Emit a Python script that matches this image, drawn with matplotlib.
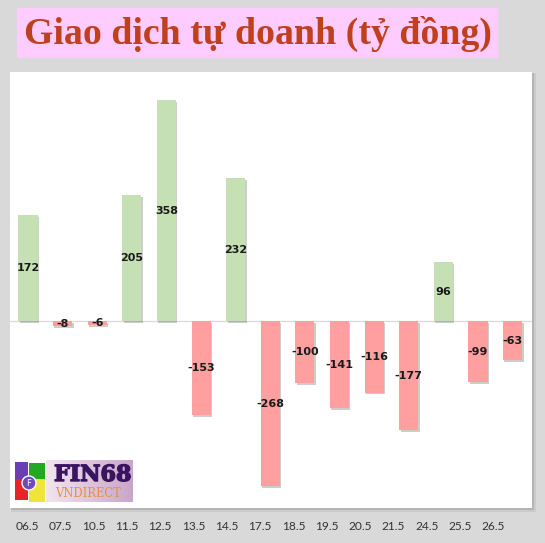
import matplotlib
matplotlib.use("Agg")
import matplotlib.pyplot as plt
import matplotlib.patheffects as pe
from matplotlib.patches import Rectangle, Circle
from matplotlib.colors import LinearSegmentedColormap
import numpy as np

dates = ["06.5", "07.5", "10.5", "11.5", "12.5", "13.5", "14.5", "17.5",
         "18.5", "19.5", "20.5", "21.5", "24.5", "25.5", "26.5"]
values = [172, -8, -6, 205, 358, -153, 232, -268,
          -100, -141, -116, -177, 96, -99, -63]

W, H = 545, 543
BG = "#d9d9d9"
GREEN = "#c5e0b3"
RED = "#ff9f9f"


def px(x0, y0, x1, y1):
    # pixel box (top-left origin) -> figure fraction [l, b, w, h]
    return [x0 / W, 1 - y1 / H, (x1 - x0) / W, (y1 - y0) / H]


def fig_rect(x0, y0, x1, y1, color, z=-2):
    r = px(x0, y0, x1, y1)
    fig.patches.append(Rectangle((r[0], r[1]), r[2], r[3],
                                 transform=fig.transFigure, facecolor=color,
                                 edgecolor="none", zorder=z))


fig = plt.figure(figsize=(W / 100, H / 100), dpi=100, facecolor=BG)

# title box
fig_rect(17, 8, 498, 58, "#ffccff")
fig.text((17 + 498) / 2 / W, 1 - 33.5 / H,
         "Giao dịch tự doanh (tỷ đồng)", ha="center", va="center",
         family="Liberation Serif", fontweight="bold", fontsize=27.3,
         color="#c0401e")

# soft panel shadow
fig_rect(11, 73, 536, 512, "#cbcbcb", z=-3)
fig_rect(11, 73, 534, 510, "#b4b4b4", z=-2)

ax = fig.add_axes(px(10, 72, 532, 508))
ax.set_facecolor("white")
ax.set_xlim(-0.52, 14.56)
ax.set_ylim(-303, 404)
for s in ax.spines.values():
    s.set_visible(False)
ax.set_xticks([])
ax.set_yticks([])
ax.axhline(0, color="#d9d9d9", lw=0.9, zorder=1)

x = np.arange(len(values))
colors = [GREEN if v >= 0 else RED for v in values]
bars = ax.bar(x, values, width=0.55, color=colors, zorder=2)
for b in bars:
    b.set_path_effects([pe.SimplePatchShadow(offset=(1, -1.3), alpha=0.25),
                        pe.Normal()])
for xi, v in zip(x, values):
    ax.text(xi, v / 2, f"{v}", ha="center", va="center", fontsize=8,
            fontweight="bold", color="#1a1a1a", zorder=3)

# date labels row
ax2 = fig.add_axes(px(10, 515, 532, 518), frameon=False)
ax2.set_xlim(-0.51, 15.16)
ax2.set_yticks([])
ax2.set_xticks(x)
ax2.set_xticklabels(dates, family="Lato", fontsize=8.6, color="#333333")
ax2.tick_params(axis="x", length=0, pad=2)

# logo
lg = fig.add_axes(px(14, 460, 133, 502))
lg.set_xlim(0, 119)
lg.set_ylim(42, 0)
lg.axis("off")
grad = np.linspace(0, 1, 100)[None, :]
lg.imshow(grad, extent=(30, 119, 42, 0),
          cmap=LinearSegmentedColormap.from_list("lg", ["#f3e6f0", "#c9a6c9"]),
          aspect="auto", zorder=0)
lg.add_patch(Rectangle((0, 0), 32, 42, facecolor="white", zorder=0))
lg.add_patch(Rectangle((1, 2), 13, 17, facecolor="#6a3fb5", zorder=1))
lg.add_patch(Rectangle((15, 3), 16, 16, facecolor="#22a822", zorder=1))
lg.add_patch(Rectangle((1, 19), 13, 21, facecolor="#e8232a", zorder=1))
lg.add_patch(Rectangle((15, 19), 16, 23, facecolor="#f0e33a", zorder=1))
lg.add_patch(Circle((15, 23), 7, facecolor="#7048c0", edgecolor="white", lw=1, zorder=2))
lg.text(15, 23.5, "F", ha="center", va="center", color="white", fontsize=6, zorder=3)
lg.text(40, 15, "FIN68", ha="left", va="center", family="DejaVu Serif",
        fontweight="heavy", fontsize=16, color="#3a1460", zorder=3,
        path_effects=[pe.withStroke(linewidth=1, foreground="#3a1460")])
lg.text(41, 33.5, "VNDIRECT", ha="left", va="center", family="DejaVu Serif",
        fontsize=8.3, color="#e8903a", zorder=3)

fig.savefig("out.png", dpi=100, facecolor=BG)
